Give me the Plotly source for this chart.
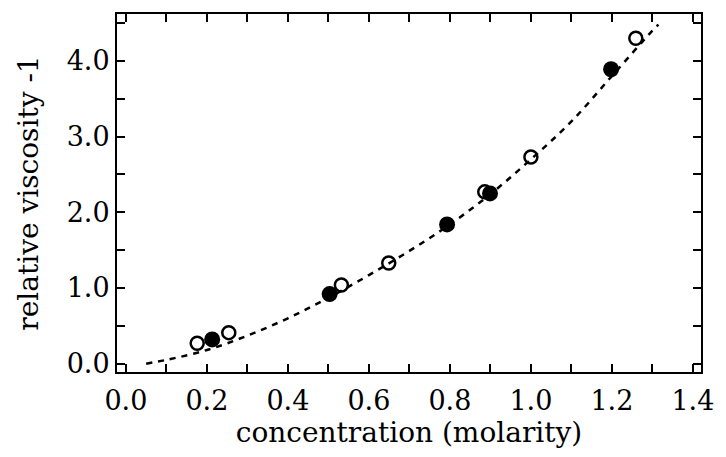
import plotly.graph_objects as go

# open-circle series
open_x = [0.176, 0.254, 0.532, 0.649, 0.886, 1.000, 1.259]
open_y = [0.27, 0.41, 1.04, 1.33, 2.27, 2.73, 4.30]
# filled-circle series
fill_x = [0.213, 0.503, 0.793, 0.899, 1.198]
fill_y = [0.32, 0.92, 1.84, 2.25, 3.89]
# dashed fit curve
curve_x = [0.05, 0.10, 0.20, 0.30, 0.40, 0.50, 0.60, 0.70, 0.80, 0.90, 1.00, 1.10, 1.20, 1.30, 1.315]
curve_y = [0.00, 0.05, 0.18, 0.37, 0.60, 0.87, 1.17, 1.49, 1.84, 2.24, 2.70, 3.20, 3.80, 4.40, 4.48]

x_ticks = [0.0, 0.2, 0.4, 0.6, 0.8, 1.0, 1.2, 1.4]
y_ticks = [0.0, 1.0, 2.0, 3.0, 4.0]

FONT = "DejaVu Serif"
TICK_SIZE = 27
TITLE_SIZE = 28

fig = go.Figure()
fig.add_trace(go.Scatter(x=curve_x, y=curve_y, mode="lines", line_shape="spline",
                         line=dict(color="black", width=2.5, dash="6px,6px"),
                         showlegend=False, hoverinfo="skip"))
fig.add_trace(go.Scatter(x=open_x, y=open_y, mode="markers",
                         marker=dict(symbol="circle-open", size=13, color="black",
                                     line=dict(width=2.5, color="black")),
                         showlegend=False))
fig.add_trace(go.Scatter(x=fill_x, y=fill_y, mode="markers",
                         marker=dict(symbol="circle", size=16, color="black"),
                         showlegend=False))

axis_common = dict(showline=True, linecolor="black", linewidth=2, mirror="allticks",
                   ticks="inside", ticklen=8, tickwidth=2, tickcolor="black",
                   showgrid=False, zeroline=False,
                   tickfont=dict(family=FONT, size=TICK_SIZE, color="black"))

fig.update_xaxes(range=[-0.022, 1.42], tickvals=x_ticks,
                 ticktext=[f"{v:.1f}" for v in x_ticks],
                 ticklabelstandoff=4,
                 minor=dict(dtick=0.1, tick0=0, ticks="inside", ticklen=8, tickwidth=2, tickcolor="black"),
                 title=dict(text="concentration (molarity)", font=dict(family=FONT, size=TITLE_SIZE, color="black"),
                            standoff=7),
                 **axis_common)
fig.update_yaxes(range=[-0.11, 4.62], tickvals=y_ticks,
                 ticktext=[f"{v:.1f}" for v in y_ticks],
                 minor=dict(dtick=0.5, tick0=0, ticks="inside", ticklen=8, tickwidth=2, tickcolor="black"),
                 title=dict(text="relative viscosity -1", font=dict(family=FONT, size=TITLE_SIZE, color="black"),
                            standoff=20),
                 **axis_common)

fig.update_layout(width=726, height=457, margin=dict(l=117, r=18, t=14, b=85),
                  plot_bgcolor="white", paper_bgcolor="white",
                  font=dict(family=FONT, color="black"))

fig.write_html("out.html")
